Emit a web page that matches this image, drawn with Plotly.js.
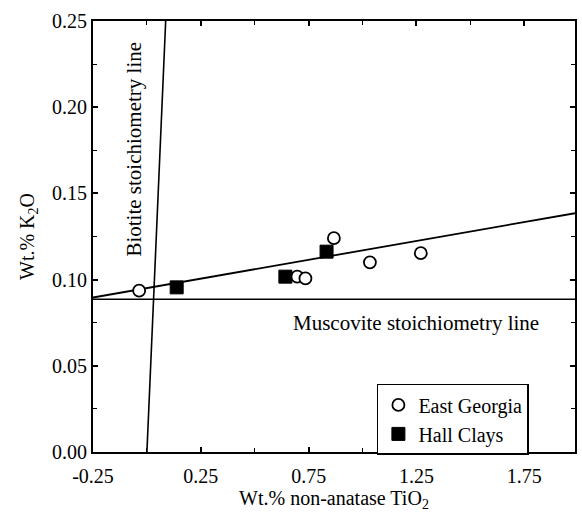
<!DOCTYPE html>
<html>
<head>
<meta charset="utf-8">
<script src="https://cdn.plot.ly/plotly-3.0.1.min.js"></script>
<style>
html,body{margin:0;padding:0;background:#fff;}
#chart{width:582px;height:512px;}
</style>
</head>
<body>
<div id="chart"></div>
<script>
// Data
const eastGeorgiaTiO2 = [-0.036, 0.697, 0.735, 0.867, 1.034, 1.270];
const eastGeorgiaK2O  = [0.0936, 0.1017, 0.1007, 0.124, 0.110, 0.1153];
const hallClaysTiO2   = [0.138, 0.642, 0.833];
const hallClaysK2O    = [0.0955, 0.1017, 0.1162];
const regressionTiO2  = [-0.25, 1.985];
const regressionK2O   = [0.0896, 0.1385];
const biotiteTiO2     = [0.0, 0.087];
const biotiteK2O      = [0.0, 0.25];
const muscoviteTiO2   = [-0.25, 1.985];
const muscoviteK2O    = [0.0886, 0.0886];
const xTickVals = [-0.25, 0.25, 0.75, 1.25, 1.75];
const xTickText = ['-0.25', '0.25', '0.75', '1.25', '1.75'];
const yTickVals = [0, 0.05, 0.10, 0.15, 0.20, 0.25];
const yTickText = ['0.00', '0.05', '0.10', '0.15', '0.20', '0.25'];
const seriesNames = ['East Georgia', 'Hall Clays'];

const FONT = 'Liberation Serif';

const traces = [
  {x: regressionTiO2, y: regressionK2O, mode: 'lines', line: {color: '#000', width: 1.8}, showlegend: false, hoverinfo: 'skip'},
  {x: biotiteTiO2, y: biotiteK2O, mode: 'lines', line: {color: '#000', width: 1.6}, showlegend: false, hoverinfo: 'skip'},
  {x: muscoviteTiO2, y: muscoviteK2O, mode: 'lines', line: {color: '#000', width: 1.4}, showlegend: false, hoverinfo: 'skip'},
  {x: eastGeorgiaTiO2, y: eastGeorgiaK2O, mode: 'markers', name: seriesNames[0],
   marker: {symbol: 'circle', size: 12, color: '#fff', line: {color: '#000', width: 1.8}}},
  {x: hallClaysTiO2, y: hallClaysK2O, mode: 'markers', name: seriesNames[1],
   marker: {symbol: 'square', size: 13, color: '#000', line: {color: '#000', width: 1}}}
];

const layout = {
  width: 582, height: 512,
  margin: {l: 93, r: 7, t: 21, b: 60},
  paper_bgcolor: '#fff', plot_bgcolor: '#fff',
  font: {family: FONT, color: '#000', size: 20},
  showlegend: true,
  legend: {
    x: 0.589, y: 0.158, xanchor: 'left', yanchor: 'top',
    bordercolor: '#000', borderwidth: 1.5, bgcolor: '#fff',
    font: {family: FONT, size: 20, color: '#000'},
    tracegroupgap: 0, itemwidth: 30
  },
  xaxis: {
    range: [-0.25, 1.985], showgrid: false, zeroline: false,
    showline: true, linecolor: '#000', linewidth: 2, mirror: 'ticks',
    ticks: 'inside', ticklen: 5, tickwidth: 1.5, tickcolor: '#000',
    tickvals: xTickVals, ticktext: xTickText, ticklabelstandoff: 5,
    minor: {dtick: 0.25, tick0: -0.25, ticks: 'inside', ticklen: 4, tickwidth: 1.2, tickcolor: '#000', showgrid: false},
    tickfont: {family: FONT, size: 20, color: '#000'},
    title: {text: 'Wt.% non-anatase TiO<sub>2</sub>', font: {family: FONT, size: 20, color: '#000'}, standoff: 4}
  },
  yaxis: {
    range: [0, 0.25], showgrid: false, zeroline: false,
    showline: true, linecolor: '#000', linewidth: 2, mirror: 'ticks',
    ticks: 'inside', ticklen: 5, tickwidth: 1.5, tickcolor: '#000',
    tickvals: yTickVals, ticktext: yTickText, ticklabelstandoff: 0,
    minor: {dtick: 0.025, tick0: 0, ticks: 'inside', ticklen: 4, tickwidth: 1.2, tickcolor: '#000', showgrid: false},
    tickfont: {family: FONT, size: 20, color: '#000'},
    title: {text: 'Wt.% K<sub>2</sub>O', font: {family: FONT, size: 20, color: '#000'}, standoff: 12}
  },
  annotations: [
    {xref: 'x', yref: 'y', x: -0.06, y: 0.176, text: 'Biotite stoichiometry line', textangle: -90,
     showarrow: false, font: {family: FONT, size: 21, color: '#000'}},
    {xref: 'x', yref: 'y', x: 1.247, y: 0.0748, text: 'Muscovite stoichiometry line',
     showarrow: false, font: {family: FONT, size: 21, color: '#000'}}
  ]
};

Plotly.newPlot('chart', traces, layout, {displayModeBar: false});
</script>
</body>
</html>
